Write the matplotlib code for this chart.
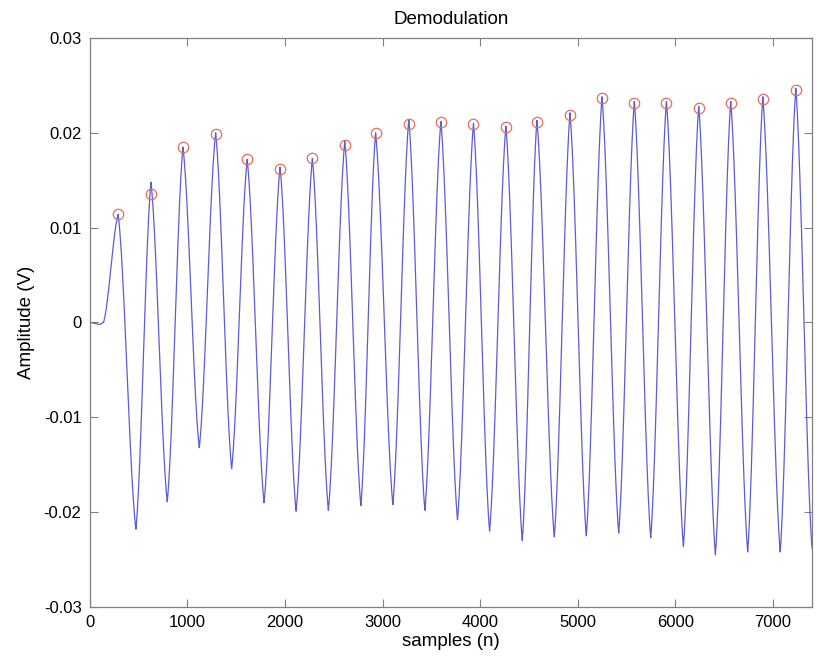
import numpy as np
import matplotlib.pyplot as plt

plt.rcParams['font.family'] = ['Liberation Sans', 'DejaVu Sans']

# detected peaks (red circles)
peak_n = [290, 626, 954, 1289, 1612, 1949, 2280, 2612, 2928, 3268, 3597,
          3931, 4263, 4581, 4920, 5248, 5579, 5908, 6239, 6567, 6896, 7234]
peak_v = [0.0114, 0.0136, 0.0185, 0.0199, 0.0172, 0.0162, 0.0173, 0.0187,
          0.0200, 0.0209, 0.0211, 0.0209, 0.0206, 0.0211, 0.0219, 0.0237,
          0.0231, 0.0231, 0.0226, 0.0231, 0.0236, 0.0245]
# apex of the signal itself (a few sit above the circle)
apex_v = [0.0114, 0.0148, 0.0185, 0.0200, 0.0172, 0.0164, 0.0173, 0.0191,
          0.0200, 0.0214, 0.0212, 0.0210, 0.0207, 0.0213, 0.0221, 0.0238,
          0.0233, 0.0233, 0.0228, 0.0233, 0.0238, 0.0247]
# troughs
trough_n = [472, 793, 1121, 1453, 1785, 2113, 2444, 2777, 3105, 3433, 3767,
            4096, 4431, 4759, 5087, 5419, 5747, 6082, 6410, 6741, 7074]
trough_v = [-0.0218, -0.0189, -0.0132, -0.0154, -0.0190, -0.0199, -0.0198,
            -0.0193, -0.0192, -0.0198, -0.0208, -0.0220, -0.0230, -0.0226,
            -0.0225, -0.0222, -0.0227, -0.0236, -0.0245, -0.0242, -0.0242]
# flat start and the cut-off end
start_n = [0, 100, 140]
start_v = [0.0, -0.0002, 0.0]
end_n = [7400]
end_v = [-0.0238]

# chain the extrema in order
ext_n = list(start_n)
ext_v = list(start_v)
for i in range(len(peak_n)):
    ext_n.append(peak_n[i])
    ext_v.append(apex_v[i])
    if i < len(trough_n):
        ext_n.append(trough_n[i])
        ext_v.append(trough_v[i])
ext_n += end_n
ext_v += end_v

# join the extrema with swings that are half cosine, half straight
n_all = []
v_all = []
for k in range(len(ext_n) - 1):
    t = np.linspace(0, 1, 40, endpoint=False)
    s = 0.45 * t + 0.55 * (1 - np.cos(np.pi * t)) / 2
    if k < len(start_n) - 1:
        s = (1 - np.cos(np.pi * t)) / 2
    n_all.append(ext_n[k] + (ext_n[k + 1] - ext_n[k]) * t)
    v_all.append(ext_v[k] + (ext_v[k + 1] - ext_v[k]) * s)
n_all.append([ext_n[-1]])
v_all.append([ext_v[-1]])
n_all = np.concatenate(n_all)
v_all = np.concatenate(v_all)

fig = plt.figure(figsize=(8.17, 6.65), dpi=100)
ax = fig.add_axes([0.110, 0.0872, 0.8839, 0.8557])

ax.plot(n_all, v_all, color='#5c5cd6', lw=0.9)
ax.plot(peak_n, peak_v, 'o', mfc='none', mec='#e0705f', ms=7.5, mew=0.9)

ax.set_xlim(0, 7400)
ax.set_ylim(-0.03, 0.03)
ax.set_xticks(np.arange(0, 7001, 1000))
ax.set_yticks([-0.03, -0.02, -0.01, 0, 0.01, 0.02, 0.03])
ax.set_yticklabels(['-0.03', '-0.02', '-0.01', '0', '0.01', '0.02', '0.03'])
ax.tick_params(direction='in', top=True, right=True, length=6, width=0.8,
               color='#808080', labelsize=12, pad=6)
for s in ax.spines.values():
    s.set_color('#808080')
    s.set_linewidth(0.9)

ax.set_title('Demodulation', fontsize=13.5, pad=10)
ax.set_xlabel('samples (n)', fontsize=13.5, labelpad=2)
ax.set_ylabel('Amplitude (V)', fontsize=13.5, labelpad=6)

fig.savefig('out.png', dpi=100)
